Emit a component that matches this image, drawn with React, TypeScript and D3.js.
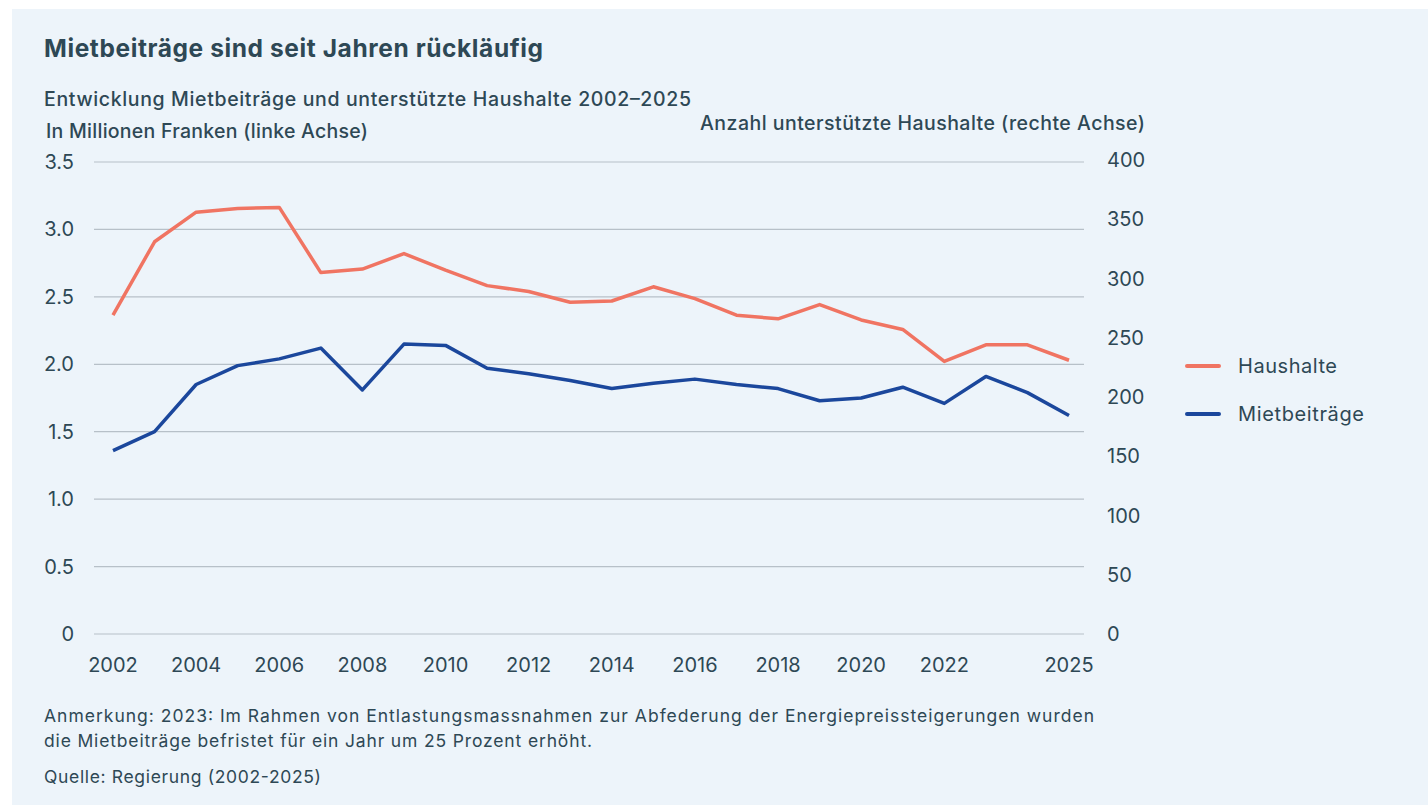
import React, { useEffect, useRef } from 'react'
import * as d3 from 'd3'

const years = d3.range(2002, 2026)
// Mietbeiträge in Mio. Franken (linke Achse)
const mietbeitraege = [1.36, 1.5, 1.85, 1.99, 2.04, 2.12, 1.81, 2.15, 2.14, 1.97, 1.93, 1.88, 1.82, 1.86, 1.89, 1.85, 1.82, 1.73, 1.75, 1.83, 1.71, 1.91, 1.79, 1.62]
// unterstützte Haushalte (rechte Achse)
const haushalte = [269, 331, 356, 359, 360, 305, 308, 321, 307, 294, 289, 280, 281, 293, 283, 269, 266, 278, 265, 257, 230, 244, 244, 231]
const leftTicks = [0, 0.5, 1, 1.5, 2, 2.5, 3, 3.5]
const rightTicks = [0, 50, 100, 150, 200, 250, 300, 350, 400]
const xTicks = [2002, 2004, 2006, 2008, 2010, 2012, 2014, 2016, 2018, 2020, 2022, 2025]

const W = 1428, H = 806
const INK = '#2e4855'
const RED = '#f07462'
const BLUE = '#1b479c'
const FONT = 'Inter, "Noto Sans", sans-serif'

const App = () => {
  const ref = useRef<SVGSVGElement>(null)

  useEffect(() => {
    const svg = d3.select(ref.current)
    svg.selectAll('*').remove()

    svg.append('rect').attr('x', 12).attr('y', 9).attr('width', 1416).attr('height', 796).attr('fill', '#edf4fa')

    var x = d3.scaleLinear().domain([2002, 2025]).range([113, 1069])
    var yL = d3.scaleLinear().domain([0, 3.5]).range([634, 162])
    var yR = d3.scaleLinear().domain([0, 400]).range([634, 160])

    const txt = (s: string, px: number, py: number, size: number, weight = 400, anchor = 'start', len = 0) => {
      const t = svg.append('text').attr('x', px).attr('y', py).attr('font-size', size).attr('font-weight', weight)
        .attr('text-anchor', anchor).attr('fill', INK).attr('font-family', FONT).text(s)
      if (len) t.attr('textLength', len).attr('lengthAdjust', 'spacing')
      return t
    }

    txt('Mietbeiträge sind seit Jahren rückläufig', 44, 57, 24.5, 700, 'start', 499)
    txt('Entwicklung Mietbeiträge und unterstützte Haushalte 2002–2025', 44, 106, 19.5, 500, 'start', 647)
    txt('In Millionen Franken (linke Achse)', 46, 138, 19.5, 500, 'start', 322)
    txt('Anzahl unterstützte Haushalte (rechte Achse)', 1145, 130, 19.5, 500, 'end', 445)

    // gridlines + left axis
    leftTicks.forEach(t => {
      svg.append('line').attr('x1', 94).attr('x2', 1084).attr('y1', yL(t)).attr('y2', yL(t))
        .attr('stroke', '#b7c0c8').attr('stroke-width', 1.2)
      txt(t === 0 ? '0' : d3.format('.1f')(t), 74, yL(t) + 7, 20, 400, 'end')
    })
    rightTicks.forEach(t => txt(String(t), 1107, yR(t) + 7, 20, 400))
    xTicks.forEach(t => txt(String(t), x(t), 672, 20, 400, 'middle'))

    var line = (vals: number[], y: d3.ScaleLinear<number, number>) =>
      d3.line<number>().x((d, i) => x(years[i])).y(d => y(d))(vals)

    svg.append('path').attr('d', line(haushalte, yR)).attr('fill', 'none').attr('stroke', RED)
      .attr('stroke-width', 3.5).attr('stroke-linejoin', 'round')
    svg.append('path').attr('d', line(mietbeitraege, yL)).attr('fill', 'none').attr('stroke', BLUE)
      .attr('stroke-width', 3.5).attr('stroke-linejoin', 'round')

    // legend
    ;[['Haushalte', RED, 366, 99], ['Mietbeiträge', BLUE, 414, 126]].forEach(([label, col, ly, len]) => {
      svg.append('line').attr('x1', 1187).attr('x2', 1219).attr('y1', ly).attr('y2', ly)
        .attr('stroke', col as string).attr('stroke-width', 4).attr('stroke-linecap', 'round')
      txt(label as string, 1238, (ly as number) + 7, 20, 400, 'start', len as number)
    })

    txt('Anmerkung: 2023: Im Rahmen von Entlastungsmassnahmen zur Abfederung der Energiepreissteigerungen wurden', 44, 722, 17.5, 400, 'start', 1050)
    txt('die Mietbeiträge befristet für ein Jahr um 25 Prozent erhöht.', 44, 747, 17.5, 400, 'start', 548)
    txt('Quelle: Regierung (2002-2025)', 44, 783, 17.5, 400, 'start', 277)
  }, [])

  return (
    <div style={{ position: 'absolute', left: 0, top: 0 }}>
      <svg ref={ref} width={W} height={H}></svg>
    </div>
  )
}

export default App
